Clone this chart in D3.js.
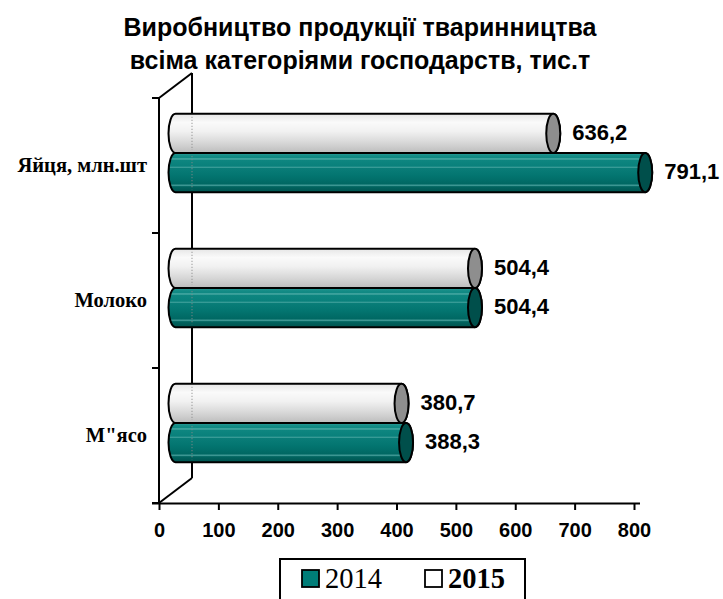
<!DOCTYPE html>
<html>
<head>
<meta charset="utf-8">
<script src="https://cdn.jsdelivr.net/npm/d3@7"></script>
<style>
  body { margin: 0; background: #fff; }
  svg { display: block; }
</style>
</head>
<body>
<div id="chart"></div>
<script>
// Data
const categories = ["Яйця, млн.шт", "Молоко", "М\"ясо"];
const seriesNames = ["2015", "2014"]; // top to bottom inside each group
const values2014 = [791.1, 504.4, 388.3];
const values2015 = [636.2, 504.4, 380.7];
const xTicks = [0, 100, 200, 300, 400, 500, 600, 700, 800];
const titleLines = ["Виробництво продукції тваринництва", "всіма категоріями господарств, тис.т"];

const width = 723;
const height = 599;

// 3D frame: front plane and depth offset
const front = { left: 159, top: 98, bottom: 503 };
const depth = { dx: 33, dy: -25 };
const half = { dx: depth.dx / 2, dy: depth.dy / 2 };

const svg = d3.select("#chart")
    .append("svg")
    .attr("width", width)
    .attr("height", height)
    .attr("viewBox", `0 0 ${width} ${height}`);

const defs = svg.append("defs");

// Teal cylinder with thin light streaks
const tealStops = [
    [0, "#2f9d98"], [0.07, "#148c86"], [0.13, "#0f8882"], [0.15, "#62b8b3"], [0.18, "#0e8680"],
    [0.34, "#09807b"], [0.36, "#4faaa5"], [0.39, "#097d78"], [0.58, "#037570"],
    [0.78, "#006863"], [0.83, "#3c9692"], [0.86, "#00645f"], [1, "#00534f"]
];
const whiteStops = [
    [0, "#e6e6e6"], [0.22, "#fafafa"], [0.45, "#f1f1f1"], [0.75, "#d6d6d6"], [1, "#bcbcbc"]
];

function addGradient(id, stops) {
    const g = defs.append("linearGradient")
        .attr("id", id)
        .attr("x1", 0).attr("y1", 0)
        .attr("x2", 0).attr("y2", 1);
    stops.forEach(s => g.append("stop").attr("offset", s[0]).attr("stop-color", s[1]));
}
addGradient("g2014", tealStops);
addGradient("g2015", whiteStops);

const seriesStyle = {
    "2014": { fill: "url(#g2014)", cap: "#004f4b", values: values2014 },
    "2015": { fill: "url(#g2015)", cap: "#8e8e8e", values: values2015 }
};

// Scales
const x = d3.scaleLinear()
    .domain([0, 800])
    .range([front.left, front.left + 475]);

const y = d3.scaleBand()
    .domain(categories)
    .range([front.top, front.bottom])
    .paddingInner(0.42)
    .paddingOuter(0.21);

const ySub = d3.scaleBand()
    .domain(seriesNames)
    .range([0, y.bandwidth()]);

// Title
svg.append("text")
    .attr("x", 360)
    .attr("y", 36)
    .attr("text-anchor", "middle")
    .attr("font-family", "Liberation Sans, Arial, sans-serif")
    .attr("font-size", "25px")
    .attr("font-weight", "700")
    .selectAll("tspan")
    .data(titleLines)
    .enter()
    .append("tspan")
    .attr("x", 360)
    .attr("dy", (d, i) => i === 0 ? 0 : 33)
    .text(d => d);

// Back wall and floor/ceiling edges
const frame = svg.append("g")
    .attr("stroke", "#000")
    .attr("stroke-width", 2)
    .attr("fill", "none");

frame.append("line")
    .attr("x1", front.left + depth.dx).attr("y1", front.top + depth.dy)
    .attr("x2", front.left + depth.dx).attr("y2", front.bottom + depth.dy);
frame.append("line")
    .attr("x1", front.left).attr("y1", front.top)
    .attr("x2", front.left + depth.dx).attr("y2", front.top + depth.dy);
frame.append("line")
    .attr("x1", front.left).attr("y1", front.bottom)
    .attr("x2", front.left + depth.dx).attr("y2", front.bottom + depth.dy);
frame.append("line")
    .attr("x1", front.left).attr("y1", front.top)
    .attr("x2", front.left).attr("y2", front.bottom);

// Category separators on the left axis
const step = y.step();
const sepY = [front.top].concat(categories.map((c, i) => front.top + step * (i + 1)));
frame.selectAll("line.sep")
    .data(sepY)
    .enter()
    .append("line")
    .attr("class", "sep")
    .attr("x1", front.left - 7).attr("x2", front.left)
    .attr("y1", d => d).attr("y2", d => d);

// Bars as cylinders
const rx = 7;
const barsG = svg.append("g");

function drawBar(series, i) {
    const st = seriesStyle[series];
    const v = st.values[i];
    const top = y(categories[i]) + half.dy + ySub(series);
    const h = ySub.bandwidth();
    const bottom = top + h;
    const ry = h / 2;
    const cx0 = x(0) + half.dx;
    const cx1 = x(v) + half.dx;

    barsG.append("path")
        .attr("d", `M${cx0},${top} L${cx1},${top} A${rx},${ry} 0 0 1 ${cx1},${bottom} L${cx0},${bottom} A${rx},${ry} 0 0 1 ${cx0},${top} Z`)
        .attr("fill", st.fill)
        .attr("stroke", "#000")
        .attr("stroke-width", 2);

    // back wall seen faintly through the bar
    barsG.append("line")
        .attr("x1", front.left + depth.dx).attr("x2", front.left + depth.dx)
        .attr("y1", top + 3).attr("y2", bottom - 3)
        .attr("stroke", "#8a8a8a")
        .attr("stroke-width", 1.2)
        .attr("stroke-dasharray", "1.2,1.8")
        .attr("opacity", 0.7);

    barsG.append("ellipse")
        .attr("cx", cx1)
        .attr("cy", top + ry)
        .attr("rx", rx)
        .attr("ry", ry)
        .attr("fill", st.cap)
        .attr("stroke", "#000")
        .attr("stroke-width", 2);

    svg.append("text")
        .attr("x", cx1 + 19)
        .attr("y", top + ry - 1)
        .attr("dy", "0.35em")
        .attr("font-family", "Liberation Sans, Arial, sans-serif")
        .attr("font-size", "22px")
        .attr("font-weight", "700")
        .text(d3.format(".1f")(v).replace(".", ","));
}

categories.forEach((c, i) => {
    seriesNames.forEach(s => drawBar(s, i));
});

// Category labels
svg.selectAll("text.cat")
    .data(categories)
    .enter()
    .append("text")
    .attr("class", "cat")
    .attr("x", front.left - 12)
    .attr("y", d => y(d) + y.bandwidth() / 2)
    .attr("dy", "0.33em")
    .attr("text-anchor", "end")
    .attr("font-family", "Liberation Serif, Times New Roman, serif")
    .attr("font-size", "20.5px")
    .attr("font-weight", "700")
    .text(d => d);

// X axis at the front edge of the floor
const xAxis = svg.append("g")
    .attr("transform", `translate(0,${front.bottom})`)
    .call(d3.axisBottom(x).tickValues(xTicks).tickSize(7).tickSizeOuter(0).tickPadding(13));

xAxis.select(".domain")
    .attr("d", `M${front.left - 7},0.5H${x(800) + 6}`)
    .attr("stroke", "#000")
    .attr("stroke-width", 2);
xAxis.selectAll(".tick line")
    .attr("stroke", "#000")
    .attr("stroke-width", 2);
xAxis.selectAll(".tick text")
    .attr("fill", "#000")
    .attr("font-family", "Liberation Sans, Arial, sans-serif")
    .attr("font-size", "20px")
    .attr("font-weight", "700");

// Legend
const legend = svg.append("g").attr("transform", "translate(280,559)");
legend.append("rect")
    .attr("x", 0).attr("y", 0)
    .attr("width", 245).attr("height", 50)
    .attr("fill", "#fff")
    .attr("stroke", "#000")
    .attr("stroke-width", 2);

const legendItems = [
    { name: "2014", color: "#007d78", bold: false, x: 22 },
    { name: "2015", color: "#fff", bold: true, x: 145 }
];
legendItems.forEach(item => {
    legend.append("rect")
        .attr("x", item.x).attr("y", 11)
        .attr("width", 17).attr("height", 17)
        .attr("fill", item.color)
        .attr("stroke", "#000")
        .attr("stroke-width", 1.8);
    legend.append("text")
        .attr("x", item.x + 23)
        .attr("y", 29)
        .attr("font-family", "Liberation Serif, Times New Roman, serif")
        .attr("font-size", "28.5px")
        .attr("font-weight", item.bold ? "700" : "400")
        .text(item.name);
});
</script>
</body>
</html>
